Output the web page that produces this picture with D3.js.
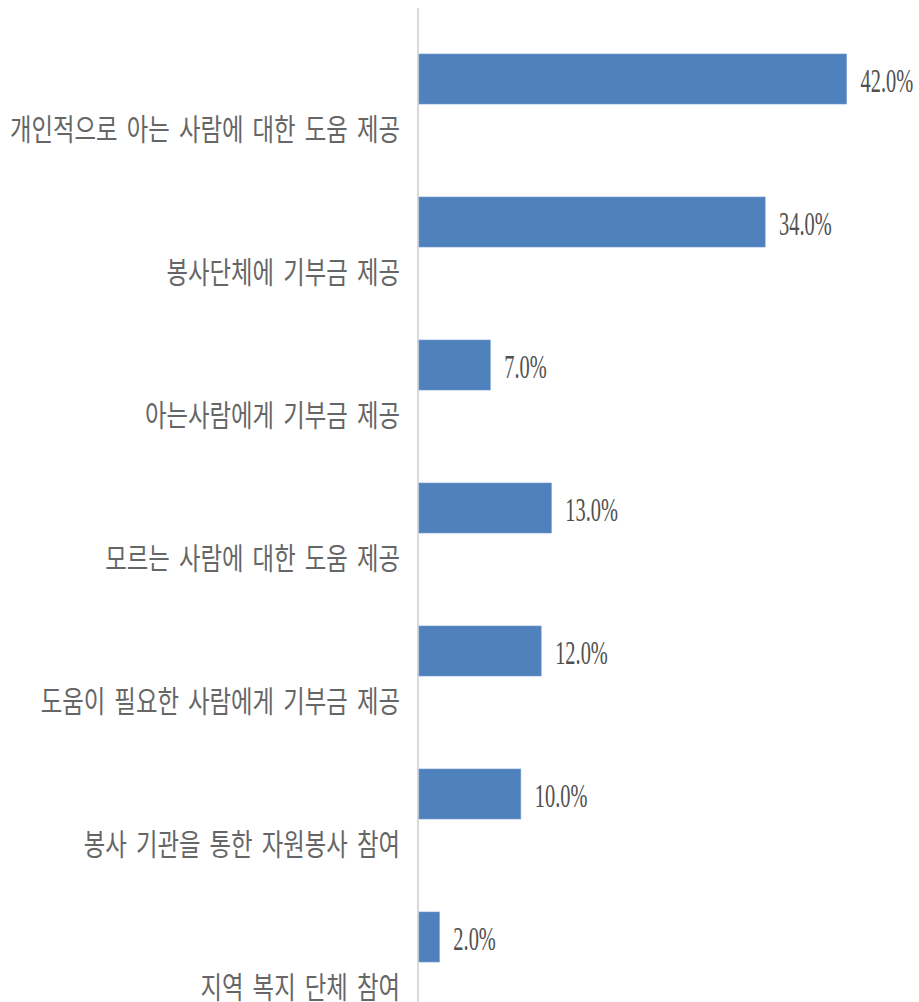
<!DOCTYPE html>
<html><head><meta charset="utf-8">
<script src="https://cdn.jsdelivr.net/npm/d3@7"></script>
<style>body{margin:0;background:#fff}svg{display:block}</style>
</head><body>
<script>
const categories = [
  "개인적으로 아는 사람에 대한 도움 제공",
  "봉사단체에 기부금 제공",
  "아는사람에게 기부금 제공",
  "모르는 사람에 대한 도움 제공",
  "도움이 필요한 사람에게 기부금 제공",
  "봉사 기관을 통한 자원봉사 참여",
  "지역 복지 단체 참여"
];
const values = [42, 34, 7, 13, 12, 10, 2];
const valueLabels = ["42.0%", "34.0%", "7.0%", "13.0%", "12.0%", "10.0%", "2.0%"];

const W = 919, H = 1002;
const svg = d3.select("body").append("svg").attr("width", W).attr("height", H);

const x = d3.scaleLinear().domain([0, 45]).range([419, 419 + 45 * 10.18]);
const y = d3.scaleBand().domain(categories).range([54, 54 + 7 * 143]).paddingInner(0).paddingOuter(0);
const barH = 50;

// axis line
svg.append("line").attr("x1", 418).attr("x2", 418).attr("y1", 8).attr("y2", H)
  .attr("stroke", "#d9d9d9").attr("stroke-width", 2);

svg.selectAll("rect.bar").data(values).enter().append("rect")
  .attr("class", "bar")
  .attr("x", x(0))
  .attr("y", (d, i) => y(categories[i]))
  .attr("width", d => x(d) - x(0))
  .attr("height", barH)
  .attr("fill", "#4f81bd")
  .attr("stroke", "#6f98cc").attr("stroke-width", 0.6);

svg.selectAll("text.val").data(values).enter().append("text")
  .attr("class", "val")
  .attr("transform", (d, i) => `translate(${x(d) + 14},${y(categories[i]) + barH / 2 + 1}) scale(0.6,1)`)
  .attr("dominant-baseline", "central")
  .attr("font-family", "Liberation Serif, serif")
  .attr("font-size", 34)
  .attr("fill", "#505050")
  .text((d, i) => valueLabels[i]);

svg.selectAll("text.cat").data(categories).enter().append("text")
  .attr("class", "cat")
  .attr("transform", d => `translate(400,${y(d) + y.bandwidth() / 2 + 2}) scale(0.78,1)`)
  .attr("text-anchor", "end")
  .attr("dominant-baseline", "central")
  .attr("font-family", "'Noto Sans CJK KR', sans-serif")
  .attr("font-size", 30)
  .attr("word-spacing", "5px")
  .attr("fill", "#666666")
  .text(d => d);
</script>
</body></html>
